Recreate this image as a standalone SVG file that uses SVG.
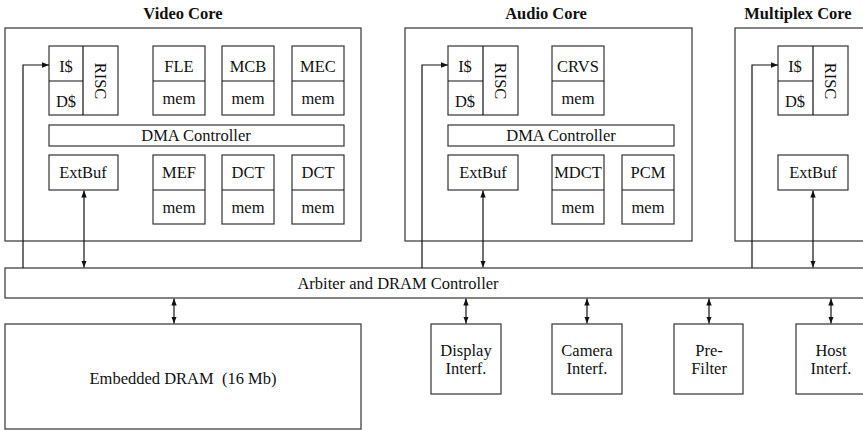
<svg xmlns="http://www.w3.org/2000/svg" width="863" height="430" viewBox="0 0 863 430">
  <defs>
    <marker id="ah" viewBox="0 0 7 6" refX="7" refY="3" markerWidth="7" markerHeight="6" markerUnits="userSpaceOnUse" orient="auto-start-reverse">
      <path d="M0,0.3 L7,3 L0,5.7 z" fill="#111"/>
    </marker>
  </defs>
  <style>
    rect { fill: #fff; stroke: #333; stroke-width: 1.2; }
    line, polyline { stroke: #111; stroke-width: 1.2; fill: none; }
    text { font-family: "Liberation Serif", "DejaVu Serif", serif; font-size: 16.5px; fill: #111; text-anchor: middle; dominant-baseline: central; }
    .title { font-weight: bold; font-size: 16.5px; }
    .one { marker-end: url(#ah); }
    .two { marker-start: url(#ah); marker-end: url(#ah); }
  </style>

  <rect id="bg" x="0" y="0" width="863" height="430" style="stroke:none"/>

  <g font-family="Liberation Serif, DejaVu Serif, serif">
  <!-- Video core -->
  <g id="video-core">
    <text class="title" x="183" y="13">Video Core</text>
    <rect x="5" y="28" width="356" height="213"/>
    <g id="video-risc">
      <rect x="49" y="46" width="69" height="69"/>
      <line x1="83" y1="46" x2="83" y2="115"/>
      <line x1="49" y1="81" x2="83" y2="81"/>
      <text x="66" y="66">I$</text>
      <text x="66" y="101">D$</text>
      <text transform="translate(100,81) rotate(90)">RISC</text>
    </g>
    <g id="video-fle"><rect x="153" y="46" width="52" height="69"/><line x1="153" y1="81" x2="205" y2="81"/><text x="179" y="66">FLE</text><text x="179" y="98">mem</text></g>
    <g id="video-mcb"><rect x="222" y="46" width="52" height="69"/><line x1="222" y1="81" x2="274" y2="81"/><text x="248" y="66">MCB</text><text x="248" y="98">mem</text></g>
    <g id="video-mec"><rect x="292" y="46" width="52" height="69"/><line x1="292" y1="81" x2="344" y2="81"/><text x="318" y="66">MEC</text><text x="318" y="98">mem</text></g>
    <g id="video-dma"><rect x="49" y="125" width="295" height="21"/><text x="196" y="135.5">DMA Controller</text></g>
    <g id="video-extbuf"><rect x="49" y="155" width="69" height="35"/><text x="83" y="172">ExtBuf</text></g>
    <g id="video-mef"><rect x="153" y="155" width="52" height="69"/><line x1="153" y1="190" x2="205" y2="190"/><text x="179" y="172">MEF</text><text x="179" y="207">mem</text></g>
    <g id="video-dct1"><rect x="222" y="155" width="52" height="69"/><line x1="222" y1="190" x2="274" y2="190"/><text x="248" y="172">DCT</text><text x="248" y="207">mem</text></g>
    <g id="video-dct2"><rect x="292" y="155" width="52" height="69"/><line x1="292" y1="190" x2="344" y2="190"/><text x="318" y="172">DCT</text><text x="318" y="207">mem</text></g>
  </g>

  <!-- Audio core -->
  <g id="audio-core">
    <text class="title" x="546" y="13">Audio Core</text>
    <rect x="405" y="28" width="287" height="213"/>
    <g id="audio-risc">
      <rect x="448" y="46" width="70" height="69"/>
      <line x1="483" y1="46" x2="483" y2="115"/>
      <line x1="448" y1="81" x2="483" y2="81"/>
      <text x="465" y="66">I$</text>
      <text x="465" y="101">D$</text>
      <text transform="translate(500,81) rotate(90)">RISC</text>
    </g>
    <g id="audio-crvs"><rect x="552" y="46" width="52" height="69"/><line x1="552" y1="81" x2="604" y2="81"/><text x="578" y="66">CRVS</text><text x="578" y="98">mem</text></g>
    <g id="audio-dma"><rect x="448" y="125" width="226" height="21"/><text x="561" y="135.5">DMA Controller</text></g>
    <g id="audio-extbuf"><rect x="448" y="155" width="70" height="35"/><text x="483" y="172">ExtBuf</text></g>
    <g id="audio-mdct"><rect x="552" y="155" width="52" height="69"/><line x1="552" y1="190" x2="604" y2="190"/><text x="578" y="172">MDCT</text><text x="578" y="207">mem</text></g>
    <g id="audio-pcm"><rect x="622" y="155" width="52" height="69"/><line x1="622" y1="190" x2="674" y2="190"/><text x="648" y="172">PCM</text><text x="648" y="207">mem</text></g>
  </g>

  <!-- Multiplex core -->
  <g id="multiplex-core">
    <text class="title" x="798" y="13">Multiplex Core</text>
    <rect x="735" y="28" width="140" height="213"/>
    <g id="mux-risc">
      <rect x="778" y="46" width="70" height="69"/>
      <line x1="813" y1="46" x2="813" y2="115"/>
      <line x1="778" y1="81" x2="813" y2="81"/>
      <text x="795" y="66">I$</text>
      <text x="795" y="101">D$</text>
      <text transform="translate(830,81) rotate(90)">RISC</text>
    </g>
    <g id="mux-extbuf"><rect x="778" y="155" width="70" height="35"/><text x="813" y="172">ExtBuf</text></g>
  </g>

  <!-- Shared bus and memory -->
  <g id="arbiter"><rect x="5" y="268" width="870" height="30"/><text x="398" y="283">Arbiter and DRAM Controller</text></g>
  <g id="edram"><rect x="5" y="324" width="356" height="105"/><text x="183" y="378" xml:space="preserve">Embedded DRAM  (16 Mb)</text></g>

  <!-- Peripherals -->
  <g id="display"><rect x="431" y="324" width="70" height="70"/><text x="466" y="350">Display</text><text x="466" y="368">Interf.</text></g>
  <g id="camera"><rect x="552" y="324" width="70" height="70"/><text x="587" y="350">Camera</text><text x="587" y="368">Interf.</text></g>
  <g id="prefilter"><rect x="674" y="324" width="69" height="70"/><text x="709" y="350">Pre-</text><text x="709" y="368">Filter</text></g>
  <g id="host"><rect x="796" y="324" width="70" height="70"/><text x="831" y="350">Host</text><text x="831" y="368">Interf.</text></g>
  </g>

  <!-- Connectors -->
  <g id="connectors">
    <polyline class="one" points="23,268 23,65 49,65"/>
    <line class="two" x1="84" y1="190.5" x2="84" y2="267.5"/>
    <polyline class="one" points="422,268 422,65 448,65"/>
    <line class="two" x1="483" y1="190.5" x2="483" y2="267.5"/>
    <polyline class="one" points="752,268 752,65 778,65"/>
    <line class="two" x1="813" y1="190.5" x2="813" y2="267.5"/>
    <line class="two" x1="174" y1="298.5" x2="174" y2="323.5"/>
    <line class="two" x1="466" y1="298.5" x2="466" y2="323.5"/>
    <line class="two" x1="587" y1="298.5" x2="587" y2="323.5"/>
    <line class="two" x1="709" y1="298.5" x2="709" y2="323.5"/>
    <line class="two" x1="831" y1="298.5" x2="831" y2="323.5"/>
  </g>
</svg>
